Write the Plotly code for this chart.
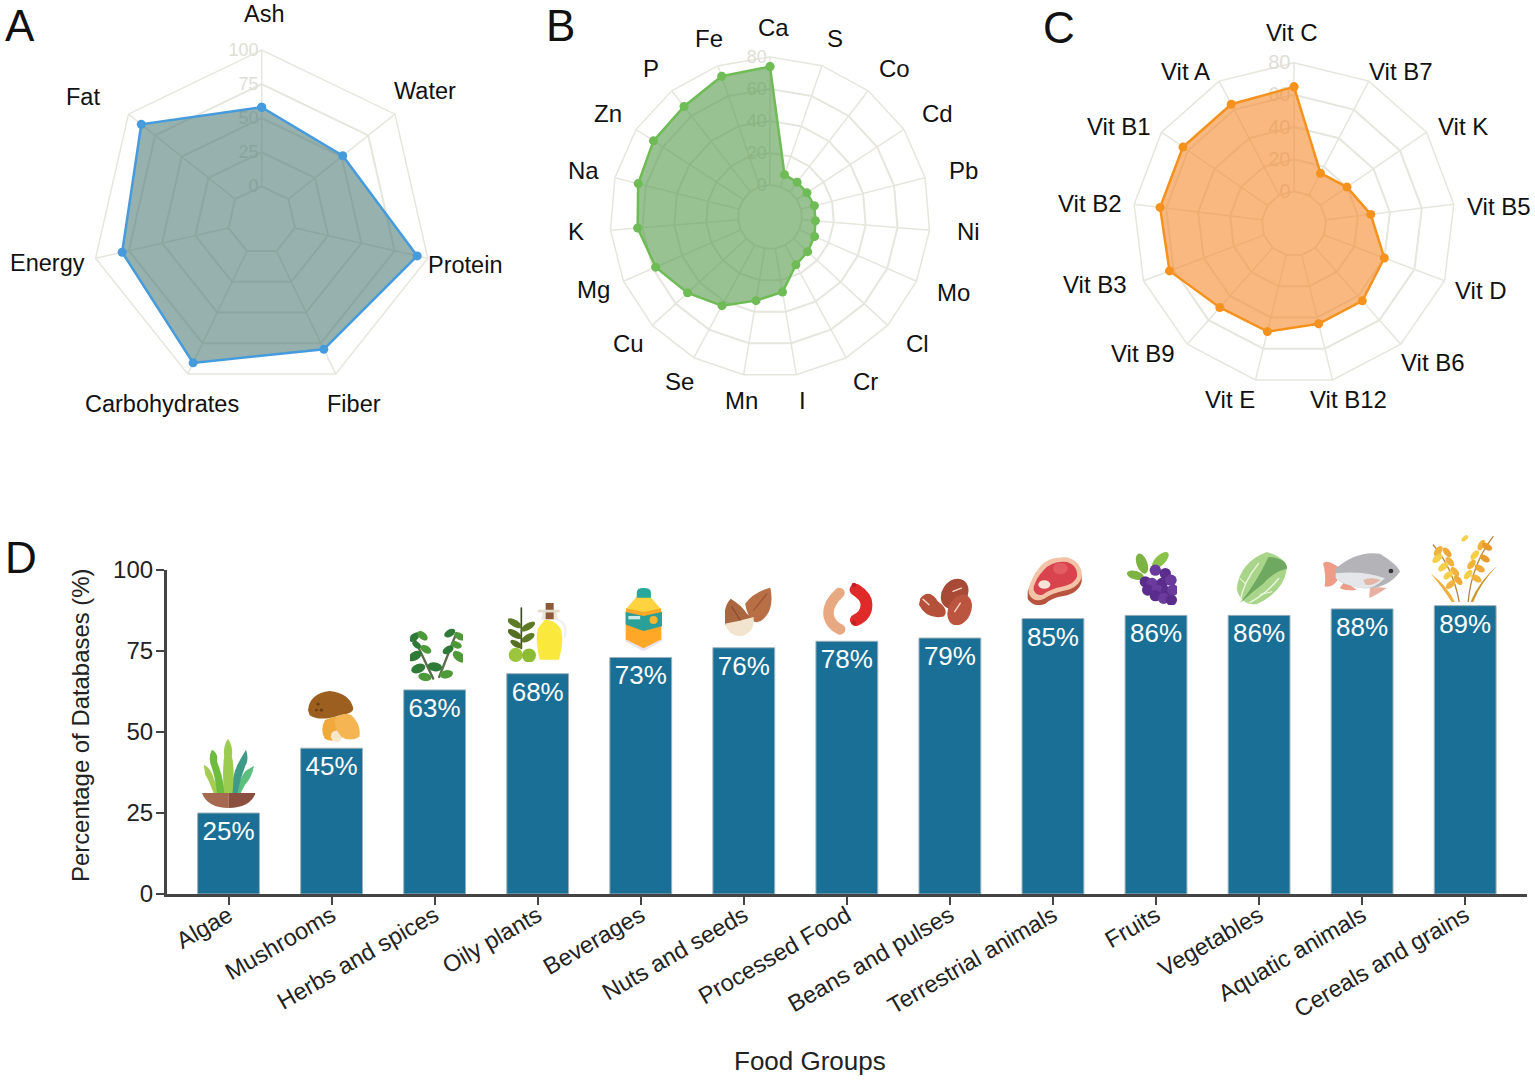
import base64
import plotly.graph_objects as go

W, H = 1535, 1080
FONT = "Liberation Sans"

# ---------- data ----------
macro_labels = ["Ash", "Water", "Protein", "Fiber", "Carbohydrates", "Energy", "Fat"]
macro_values = [58, 51, 92, 80, 91, 80, 88]

mineral_labels = ["Ca", "S", "Co", "Cd", "Pb", "Ni", "Mo", "Cl", "Cr", "I", "Mn", "Se", "Cu", "Mg", "K", "Na", "Zn", "P", "Fe"]
mineral_values = [74, 8, 7.6, 7.6, 8.6, 8.5, 10.4, 12, 14, 27.5, 33, 43, 50, 58, 63, 65, 67, 67.5, 73]

vitamin_labels = ["Vit C", "Vit B7", "Vit K", "Vit B5", "Vit D", "Vit B6", "Vit B12", "Vit E", "Vit B9", "Vit B3", "Vit B2", "Vit B1", "Vit A"]
vitamin_values = [65, 15.4, 20, 28, 40, 44, 44, 49, 49.5, 62.7, 63.8, 63.8, 63.8]

food_groups = ["Algae", "Mushrooms", "Herbs and spices", "Oily plants", "Beverages", "Nuts and seeds", "Processed Food",
               "Beans and pulses", "Terrestrial animals", "Fruits", "Vegetables", "Aquatic animals", "Cereals and grains"]
food_pct = [25, 45, 63, 68, 73, 76, 78, 79, 85, 86, 86, 88, 89]

# ---------- spoke-label layout (pixel centres of the text, separate from the data) ----------
macro_pos = [(264, 14), (425, 91), (465, 265), (354, 404), (162, 404), (47, 263), (83, 97)]
mineral_pos = [(773, 28), (835, 38), (894, 68), (937, 114), (963, 170), (968, 231), (953, 292), (917, 343), (866, 382), (802, 400),
               (741, 400), (679, 381), (628, 343), (593, 289), (576, 231), (583, 170), (608, 114), (651, 68), (709, 38)]
vitamin_pos = [(1292, 32), (1401, 71), (1463, 127), (1499, 206), (1481, 291), (1433, 362), (1348, 399), (1230, 399), (1143, 354),
               (1095, 285), (1090, 203), (1119, 127), (1185, 71)]

# ---------- helpers ----------
def domain(cx, cy, r):
    return dict(x=[(cx - r) / W, (cx + r) / W], y=[1 - (cy + r) / H, 1 - (cy - r) / H])

GRID = "#e6e6de"
TICKC = "#deded6"

# The value 0 ring sits one step out from the centre, so the radial axis is offset by one step.
def polar_layout(cx, cy, r, labels, rmax, step, tsize=18):
    ticks = list(range(0, rmax + 1, step))
    return dict(
        domain=domain(cx, cy, r), hole=0, gridshape="linear", bgcolor="rgba(0,0,0,0)",
        radialaxis=dict(range=[0, rmax + step], tickvals=[t + step for t in ticks], ticktext=[str(t) for t in ticks],
                        angle=90, side="counterclockwise", tickangle=90, showline=False, ticks="", gridcolor=GRID, gridwidth=1.5,
                        tickfont=dict(family=FONT, size=tsize, color=TICKC), layer="below traces"),
        angularaxis=dict(type="category", categoryorder="array", categoryarray=labels, rotation=90, direction="clockwise",
                         showgrid=False, linecolor=GRID, linewidth=1.5, ticks="", showticklabels=False, layer="below traces"),
    )

def spokes(labels, rmax, step, sub):
    th, rr = [], []
    for c in labels:
        th += [c, c, None]
        rr += [step, rmax + step, None]
    return go.Scatterpolar(theta=th, r=rr, mode="lines", line=dict(color=GRID, width=1.5), subplot=sub,
                           showlegend=False, hoverinfo="skip", connectgaps=False)

def radar(labels, values, step, line, fill, sub):
    rr = [v + step for v in values]
    return go.Scatterpolar(theta=labels + labels[:1], r=rr + rr[:1], mode="lines+markers", fill="toself",
                           fillcolor=fill, line=dict(color=line, width=2.5), marker=dict(color=line, size=9),
                           subplot=sub, showlegend=False, hoverinfo="skip")

# ---------- icons (decorative inline SVG, zoomed crop coordinates) ----------
def ell(cx, cy, rx, ry, rot, col):
    return f'<ellipse cx="{cx}" cy="{cy}" rx="{rx}" ry="{ry}" transform="rotate({rot} {cx} {cy})" fill="{col}"/>'
def path(d, col):
    return f'<path d="{d}" fill="{col}"/>'
def stroke(d, col, w):
    return f'<path d="{d}" fill="none" stroke="{col}" stroke-width="{w}" stroke-linecap="round"/>'
def circ(cx, cy, r, col):
    return f'<circle cx="{cx}" cy="{cy}" r="{r}" fill="{col}"/>'

icons = []
# algae
icons.append(((202, 738, 255, 808), "605 625 160 210", "".join([
    path("M610 705 Q632 715 640 745 Q650 770 658 790 H640 Q625 750 615 735 Z", "#a5cc50"),
    path("M762 708 Q755 745 735 765 Q727 780 722 790 H707 Q715 755 735 725 Z", "#5cbf7d"),
    path("M635 660 Q655 670 650 695 Q665 730 675 790 H650 Q645 740 630 700 Q625 675 635 660 Z", "#6dbb3f"),
    path("M738 660 Q748 690 735 710 Q720 750 712 790 H695 Q695 740 712 705 Q725 680 738 660 Z", "#3f9a87"),
    path("M683 627 Q700 650 695 680 Q705 720 697 790 H672 Q665 730 672 680 Q668 650 683 627 Z", "#9ccc4f"),
    path("M605 790 H686 V835 Q622 835 605 790 Z", "#a5694f"),
    path("M686 790 H767 Q750 835 686 835 Z", "#8a4f3f"),
])))
# mushroom
icons.append(((308, 691, 360, 742), "925 483 155 152", "".join([
    path("M975 570 Q1010 555 1020 560 L1025 620 Q1000 640 975 625 Q960 600 975 570 Z", "#f0a93a"),
    path("M925 540 Q930 490 990 483 Q1050 490 1060 535 Q1060 550 1020 555 Q960 575 930 555 Z", "#9c5f1f"),
    circ(1010, 618, 17, "#f7e6c8"),
    path("M1005 565 Q1030 545 1055 555 Q1085 585 1078 620 Q1050 635 1025 620 Q1000 590 1005 565 Z", "#f5b552"),
    circ(955, 522, 5, "#6d3f12"), circ(965, 540, 5, "#6d3f12"), circ(950, 540, 4, "#6d3f12"),
])))
# herbs
herb_l = [(1243, 322, 18, -40), (1268, 318, 18, 40), (1245, 378, 22, -30), (1278, 358, 18, 30), (1255, 415, 22, -20),
          (1275, 440, 20, 10), (1350, 310, 18, -30), (1380, 320, 17, 30), (1345, 360, 18, -30), (1378, 380, 22, 40),
          (1305, 410, 22, 10), (1340, 432, 20, -10), (1250, 345, 15, 40), (1370, 345, 17, 20)]
icons.append(((410, 628, 463, 682), "1230 295 160 160", "".join(
    [stroke("M1300 445 L1240 320", "#5b6d4d", 7), stroke("M1318 440 L1370 310", "#5b6d4d", 7)] +
    [ell(x, y, r, r * 0.6, a, "#4e9a3a" if i % 2 else "#2f7a36") for i, (x, y, r, a) in enumerate(herb_l)])))
# oil
icons.append(((508, 603, 568, 662), "55 100 180 175", "".join([
    stroke("M95 115 L95 235", "#3a4a22", 5),
    ell(75, 160, 24, 10, 30, "#5d7a26"), ell(115, 170, 24, 10, -30, "#5d7a26"), ell(75, 192, 24, 10, 30, "#556f22"),
    ell(115, 203, 22, 10, -30, "#5d7a26"), ell(80, 222, 20, 9, 30, "#556f22"),
    circ(78, 254, 21, "#9ac53c"), circ(118, 256, 21, "#8cbc34"),
    stroke("M205 150 Q235 160 225 200", "#eeeeea", 6),
    path("M145 175 Q135 205 150 268 H208 Q225 205 212 175 Q195 150 165 150 Z", "#fbe83c"),
    path("M160 125 H200 L205 150 H155 Z", "#ece6d8"),
    path("M168 100 H192 V148 H168 Z", "#8a5a3a"),
    path("M145 120 H210 V128 H145 Z", "#e2dccc"),
])))
# beverage
icons.append(((625, 588, 662, 652), "405 57 110 190", "".join([
    path("M405 125 L405 215 L460 245 L515 215 L515 125 Z", "#e8e2f2"),
    path("M408 118 L408 210 L460 236 L512 210 L512 118 L460 95 Z", "#ffa726"),
    path("M410 118 L440 82 H480 L510 118 L460 128 Z", "#ffd23f"),
    path("M440 70 Q440 57 460 57 Q482 57 482 70 V86 H440 Z", "#28a79a"),
    path("M407 128 L460 140 L516 128 V170 L460 185 L407 165 Z", "#2aa198"),
    circ(490, 152, 12, "#ffb52e"),
    path("M415 140 H450 V150 H415 Z", "#cfe8e6"),
])))
# almonds
icons.append(((725, 587, 772, 637), "705 50 140 150", "".join([
    path("M765 100 Q790 65 840 52 Q852 110 825 140 Q805 165 785 150 Q770 130 765 100 Z", "#b96f46"),
    path("M705 160 Q698 110 722 85 Q755 105 770 130 Q790 145 790 145 L705 165 Z", "#a9663f"),
    path("M705 160 Q735 155 790 140 Q795 190 750 198 Q715 195 705 160 Z", "#f3e4d0"),
    stroke("M790 120 Q810 95 830 70", "#955234", 3), stroke("M725 110 Q740 130 750 150", "#81482c", 3),
])))
# sausages
icons.append(((822, 582, 873, 635), "995 35 155 160", "".join([
    stroke("M1048 68 Q1008 105 1016 140 Q1022 165 1050 178", "#e8a882", 32),
    stroke("M1097 58 Q1132 80 1130 105 Q1130 135 1098 150", "#e02a2a", 36),
    circ(1092, 44, 7, "#c41f1f"), circ(1092, 158, 7, "#c41f1f"),
])))
# beans
icons.append(((918, 578, 973, 625), "1285 25 165 140", "".join([
    ell(1395, 72, 38, 48, 35, "#a84a35"),
    path("M1292 85 Q1320 55 1345 95 Q1380 120 1362 140 Q1310 150 1288 105 Z", "#b5503a"),
    ell(1410, 120, 34, 48, 25, "#bb5540"),
    stroke("M1300 88 L1318 105", "#f7dccb", 4), stroke("M1390 65 L1415 55", "#f7dccb", 4), stroke("M1395 125 L1412 100", "#f7dccb", 4),
])))
# meat
icons.append(((1027, 557, 1082, 605), "50 95 165 145", "".join([
    path("M52 200 Q65 160 85 135 Q110 95 170 100 Q217 115 214 170 Q205 205 160 213 Q125 218 105 236 Q72 250 52 222 Z", "#b9523f"),
    path("M55 190 Q65 155 85 130 Q110 93 170 96 Q217 110 214 155 Q205 190 160 197 Q125 204 100 222 Q70 235 55 205 Z", "#f3c3a8"),
    path("M70 185 Q80 155 100 135 Q125 105 170 110 Q203 120 200 155 Q192 178 155 185 Q125 190 98 208 Q78 215 70 195 Z", "#d8434d"),
    ell(150, 130, 22, 18, 0, "#e25c62"),
    ell(102, 178, 18, 13, 0, "#f8e3d8"),
])))
# grapes
grape_pts = [(405, 170), (435, 135), (465, 145), (425, 175), (455, 175), (482, 165), (412, 195), (440, 195),
             (468, 200), (488, 195), (435, 212), (460, 220), (483, 225)]
icons.append(((1127, 552, 1177, 605), "350 80 150 160", "".join(
    [ell(395, 115, 32, 16, 70, "#7cb342"), ell(450, 105, 32, 15, -45, "#8bc34a"), ell(375, 150, 26, 13, 15, "#7cb342")] +
    [circ(x, y, 17, "#6a3a9c" if i % 2 else "#5a2d8c") for i, (x, y) in enumerate(grape_pts)])))
# lettuce
icons.append(((1235, 552, 1287, 605), "675 80 155 160", "".join([
    path("M680 190 Q690 110 770 80 Q830 100 830 130 Q820 200 740 238 Q690 240 680 190 Z", "#a8d58a"),
    path("M775 95 Q830 100 830 130 Q790 140 760 175 Q720 205 690 235 Q740 170 775 95 Z", "#6fa860"),
    stroke("M690 230 Q700 170 745 115", "#eef5e2", 4), stroke("M720 232 Q770 205 805 160", "#eef5e2", 4),
    stroke("M705 175 L690 160", "#eef5e2", 3), stroke("M750 208 L785 200", "#eef5e2", 3),
])))
# fish
icons.append(((1323, 552, 1400, 598), "940 80 230 140", "".join([
    path("M985 125 Q950 100 940 115 Q950 150 945 185 Q970 190 988 158 Z", "#ee9c88"),
    path("M1000 175 Q1010 170 1040 195 Q1015 200 990 190 Z", "#ee9c88"),
    path("M1080 190 Q1110 185 1130 190 Q1100 210 1078 220 Z", "#e8b0a0"),
    path("M978 130 Q1040 75 1110 85 Q1165 120 1170 140 Q1130 195 1060 190 Q1000 182 978 160 Z", "#b3b3b8"),
    path("M978 145 Q1060 135 1125 160 Q1090 195 1060 190 Q1000 182 978 160 Z", "#e4e6ea"),
    path("M1060 165 Q1085 155 1112 165 Q1090 183 1068 180 Z", "#e4b4a4"),
    circ(1143, 138, 7, "#333"),
])))
# wheat
wheat_l = [(1285, 78, 18, -50, "#f2b33d"), (1312, 82, 17, 50, "#f0a83a"), (1282, 100, 18, -40, "#f6cf4a"), (1320, 110, 17, 50, "#f2b33d"),
           (1300, 125, 18, -40, "#f6cf4a"), (1335, 140, 17, 50, "#f2b33d"), (1315, 150, 17, -40, "#f6cf4a"), (1345, 165, 17, 50, "#f0a83a"),
           (1322, 178, 17, -40, "#f2b33d"), (1415, 60, 17, -60, "#f2b33d"), (1432, 65, 17, 30, "#e89a2e"), (1395, 90, 17, -50, "#f6cf4a"),
           (1425, 100, 17, 30, "#e89a2e"), (1385, 118, 17, -50, "#f2b33d"), (1410, 130, 17, 30, "#f0a83a"), (1375, 148, 17, -50, "#f6cf4a"),
           (1400, 160, 17, 30, "#f2b33d"), (1365, 40, 12, -40, "#f6cf4a")]
icons.append(((1430, 535, 1498, 602), "1260 30 205 200", "".join(
    [stroke("M1270 60 Q1330 130 1348 230", "#b98540", 4), stroke("M1375 230 Q1385 120 1450 35", "#b98540", 4),
     path("M1262 145 Q1310 180 1335 230 H1325 Q1300 190 1262 145 Z", "#f0b040"),
     path("M1463 122 Q1415 170 1390 230 H1382 Q1410 165 1463 122 Z", "#c9962e")] +
    [ell(x, y, r, r * 0.55, a, c) for x, y, r, a, c in wheat_l])))

images = []
for (x0, y0, x1, y1), vb, body in icons:
    a, b, c, d = vb.split()
    svg = f'<svg xmlns="http://www.w3.org/2000/svg" viewBox="{vb}" width="{int(c)*2}" height="{int(d)*2}" preserveAspectRatio="none">{body}</svg>'
    src = "data:image/svg+xml;base64," + base64.b64encode(svg.encode()).decode()
    images.append(dict(source=src, xref="paper", yref="paper", x=x0 / W, y=1 - y0 / H, sizex=(x1 - x0) / W, sizey=(y1 - y0) / H,
                       xanchor="left", yanchor="top", sizing="stretch", layer="above"))

# ---------- figure ----------
fig = go.Figure()
fig.add_trace(spokes(macro_labels, 100, 25, "polar"))
fig.add_trace(spokes(mineral_labels, 80, 20, "polar2"))
fig.add_trace(spokes(vitamin_labels, 80, 20, "polar3"))
fig.add_trace(radar(macro_labels, macro_values, 25, "#469bdc", "rgba(80,125,120,0.6)", "polar"))
fig.add_trace(radar(mineral_labels, mineral_values, 20, "#6fbb56", "rgba(84,153,73,0.6)", "polar2"))
fig.add_trace(radar(vitamin_labels, vitamin_values, 20, "#f5921e", "rgba(245,137,43,0.6)", "polar3"))
fig.add_trace(go.Bar(x=food_groups, y=food_pct, width=0.6, marker=dict(color="#1a6f96", line=dict(color="#9fb0b8", width=1)),
                     text=[f"{v}%" for v in food_pct], textposition="inside", insidetextanchor="end", textangle=0,
                     constraintext="none", insidetextfont=dict(family=FONT, size=26, color="white"),
                     showlegend=False, hoverinfo="skip", xaxis="x", yaxis="y"))

AXC = "#444444"
letters = [("A", 3, 26), ("B", 544, 26), ("C", 1041, 27), ("D", 3, 557)]
annotations = [dict(text=t, x=x / W, y=1 - y / H, xref="paper", yref="paper", xanchor="left", yanchor="middle", showarrow=False,
                    font=dict(family=FONT, size=44, color="#111")) for t, x, y in letters]
annotations.append(dict(text="Food Groups", x=810 / W, y=1 - 1061 / H, xref="paper", yref="paper", xanchor="center", yanchor="middle",
                        showarrow=False, font=dict(family=FONT, size=26, color="#222")))
annotations.append(dict(text="Percentage of Databases (%)", x=80 / W, y=1 - 726 / H, xref="paper", yref="paper", xanchor="center",
                        yanchor="middle", textangle=-90, showarrow=False, font=dict(family=FONT, size=23.9, color="#222")))
for labels, pos, size in [(macro_labels, macro_pos, 23.5), (mineral_labels, mineral_pos, 24), (vitamin_labels, vitamin_pos, 24)]:
    for t, (x, y) in zip(labels, pos):
        annotations.append(dict(text=t, x=x / W, y=1 - y / H, xref="paper", yref="paper", xanchor="center", yanchor="middle",
                                showarrow=False, font=dict(family=FONT, size=size, color="#111")))

fig.update_layout(
    width=W, height=H, margin=dict(l=0, r=0, t=0, b=0, autoexpand=False), paper_bgcolor="white", plot_bgcolor="white",
    polar=polar_layout(261.7, 220.4, 170.4, macro_labels, 100, 25),
    polar2=polar_layout(770, 217, 160, mineral_labels, 80, 20),
    polar3=polar_layout(1294, 223.7, 161, vitamin_labels, 80, 20, 20),
    xaxis=dict(domain=[166.7 / W, 1527 / W], range=[-0.6, 12.6], type="category", categoryorder="array", categoryarray=food_groups,
               showline=True, linecolor=AXC, linewidth=2.5, ticks="outside", ticklen=8, tickwidth=2, tickcolor=AXC, tickangle=-30,
               ticklabelstandoff=-12, tickfont=dict(family=FONT, size=23.5, color="#222"), showgrid=False, anchor="y"),
    yaxis=dict(domain=[1 - 894 / H, 1 - 570 / H], range=[0, 100], tickvals=[0, 25, 50, 75, 100], showline=True, linecolor=AXC,
               linewidth=2.5, ticks="outside", ticklen=8, tickwidth=2, tickcolor=AXC, showgrid=False, zeroline=False, anchor="x",
               ticklabelstandoff=-2, tickfont=dict(family=FONT, size=24, color="#222")),
    annotations=annotations, images=images,
)

fig.write_html("out.html", config={"displayModeBar": False}, post_script="document.body.style.margin='0';")
